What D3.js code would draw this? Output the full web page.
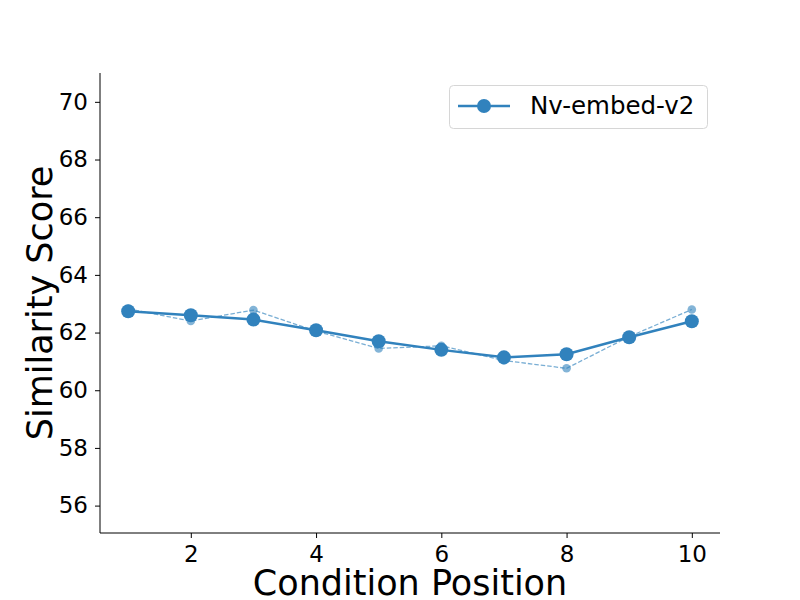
<!DOCTYPE html>
<html><head><meta charset="utf-8">
<script src="https://cdn.jsdelivr.net/npm/d3@7"></script>
<style>body{margin:0;background:#fff}svg{display:block}</style>
</head><body>
<svg id="c" width="800" height="600"></svg>
<script>
const positions = [1,2,3,4,5,6,7,8,9,10];
const smoothValues = [62.74,62.60,62.45,62.08,61.70,61.40,61.14,61.25,61.84,62.39];
const rawValues = [62.82,62.40,62.78,62.05,61.45,61.54,61.03,60.76,61.86,62.80];
const yTicks = [56,58,60,62,64,66,68,70];
const xTicks = [2,4,6,8,10];
const seriesName = "Nv-embed-v2";
const color = "#3182bd";

const svg = d3.select("#c");
const m = {l:100, r:720, t:73, b:533};
const x = d3.scaleLinear().domain([0.55,10.45]).range([m.l,m.r]);
const y = d3.scaleLinear().domain([55.05,71.0]).range([m.b,m.t]);
const font = "DejaVu Sans, sans-serif";

const xa = svg.append("g").attr("transform",`translate(0,${m.b})`)
  .call(d3.axisBottom(x).tickValues(xTicks).tickSize(5).tickPadding(8).tickFormat(d3.format("d")));
const ya = svg.append("g").attr("transform",`translate(${m.l},0)`)
  .call(d3.axisLeft(y).tickValues(yTicks).tickSize(5).tickPadding(7).tickFormat(d3.format("d")));
[xa,ya].forEach(a=>{
  a.attr("font-size",23).attr("font-family",font);
  a.selectAll("path.domain").attr("stroke","#000").attr("stroke-width",1);
  a.selectAll(".tick line").attr("stroke","#000");
  a.selectAll("text").attr("font-family",font).attr("font-size",23).attr("fill","#000");
});
xa.select("path.domain").attr("d",`M${m.l},0H${m.r}`);
ya.select("path.domain").attr("d",`M0,${m.t}V${m.b}`);

const data = positions.map((p,i)=>({p, s:smoothValues[i], r:rawValues[i]}));
const lineRaw = d3.line().x(d=>x(d.p)).y(d=>y(d.r));
const lineS = d3.line().x(d=>x(d.p)).y(d=>y(d.s));

svg.append("path").datum(data).attr("d",lineRaw).attr("fill","none")
  .attr("stroke",color).attr("stroke-width",1.3).attr("stroke-dasharray","4.5,2").attr("opacity",0.65);
svg.selectAll("circle.raw").data(data).enter().append("circle").attr("class","raw")
  .attr("cx",d=>x(d.p)).attr("cy",d=>y(d.r)).attr("r",4.3).attr("fill",color).attr("opacity",0.6);

svg.append("path").datum(data).attr("d",lineS).attr("fill","none")
  .attr("stroke",color).attr("stroke-width",2.5);
svg.selectAll("circle.s").data(data).enter().append("circle").attr("class","s")
  .attr("cx",d=>x(d.p)).attr("cy",d=>y(d.s)).attr("r",7).attr("fill",color);

// legend
const lg = svg.append("g");
lg.append("rect").attr("x",449.5).attr("y",85.5).attr("width",258).attr("height",43).attr("rx",4)
  .attr("fill","#fff").attr("stroke","#d6d6d6").attr("stroke-width",1);
lg.append("line").attr("x1",458).attr("x2",510).attr("y1",106).attr("y2",106).attr("stroke",color).attr("stroke-width",2.5);
lg.append("circle").attr("cx",484).attr("cy",106).attr("r",7).attr("fill",color);
lg.append("text").attr("x",530).attr("y",114).attr("font-family",font).attr("font-size",24.5).attr("fill","#000").text(seriesName);

svg.append("text").attr("x",410).attr("y",595).attr("text-anchor","middle")
  .attr("font-family",font).attr("font-size",35).attr("fill","#000").text("Condition Position");
svg.append("text").attr("transform","translate(52,303) rotate(-90)").attr("text-anchor","middle")
  .attr("font-family",font).attr("font-size",35).attr("fill","#000").text("Similarity Score");
</script>
</body></html>
